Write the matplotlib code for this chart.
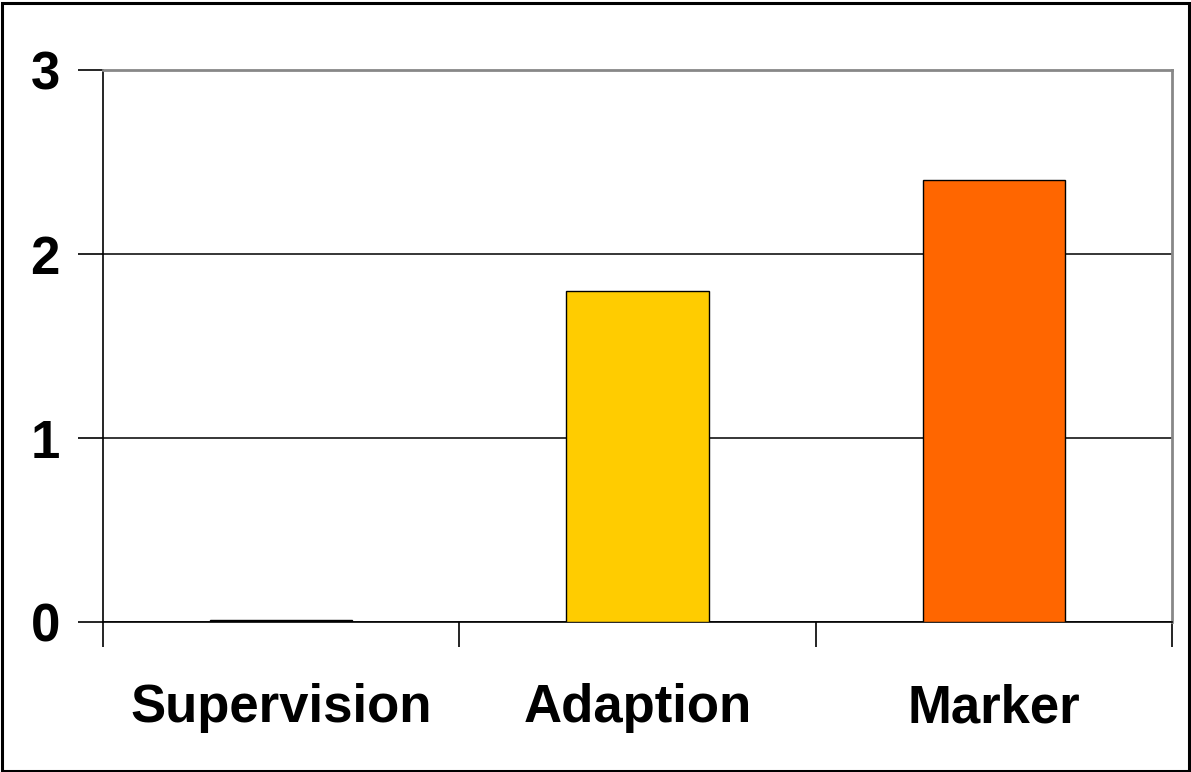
import matplotlib
matplotlib.use("Agg")
import matplotlib.pyplot as plt
from matplotlib.patches import Rectangle

categories = ["Supervision", "Adaption", "Marker"]
values = [0.01, 1.8, 2.4]
colors = ["#000000", "#FFCC00", "#FF6600"]
y_ticks = [0, 1, 2, 3]

W, H = 1191, 772
fig = plt.figure(figsize=(W / 100, H / 100), dpi=100)
fig.patch.set_facecolor("white")

# outer frame around the whole chart
fig.add_artist(Rectangle((1.5 / W, 1.5 / H), (W - 4) / W, (H - 4) / H,
                         transform=fig.transFigure, fill=False,
                         edgecolor="black", linewidth=2.2))

left, right, top, bottom = 103, 1172, 70, 622
ax = fig.add_axes([left / W, 1 - bottom / H, (right - left) / W, (bottom - top) / H])

x = list(range(len(categories)))
ax.bar(x, values, width=0.4, color=colors, edgecolor="black", linewidth=1.0, zorder=3)

ax.set_xlim(-0.5, len(categories) - 0.5)
ax.set_ylim(0, 3)
ax.set_yticks(y_ticks)
ax.set_yticklabels([str(t) for t in y_ticks])
ax.yaxis.grid(True, color="black", linewidth=1.1, zorder=0)

# category separators as ticks on the x axis
ax.set_xticks([-0.5, 0.5, 1.5, 2.5])
ax.set_xticklabels([])
ax.tick_params(axis="x", length=18, width=1.2, color="black", direction="out")
ax.tick_params(axis="y", length=18, width=1.2, color="black", direction="out", pad=13)

for lab in ax.get_yticklabels():
    lab.set_fontfamily("Liberation Sans")
    lab.set_fontweight("bold")
    lab.set_fontsize(38)

for xi, name in zip(x, categories):
    ax.text(xi, -0.47, name, ha="center", va="center", fontsize=38,
            fontweight="bold", family="Liberation Sans",
            transform=ax.transData, clip_on=False)

for side in ["top", "right"]:
    ax.spines[side].set_color("#888888")
    ax.spines[side].set_linewidth(2)
ax.spines["left"].set_color("black")
ax.spines["left"].set_linewidth(1.2)
ax.spines["bottom"].set_color("black")
ax.spines["bottom"].set_linewidth(1.2)

fig.savefig("out.png", dpi=100, facecolor="white")
